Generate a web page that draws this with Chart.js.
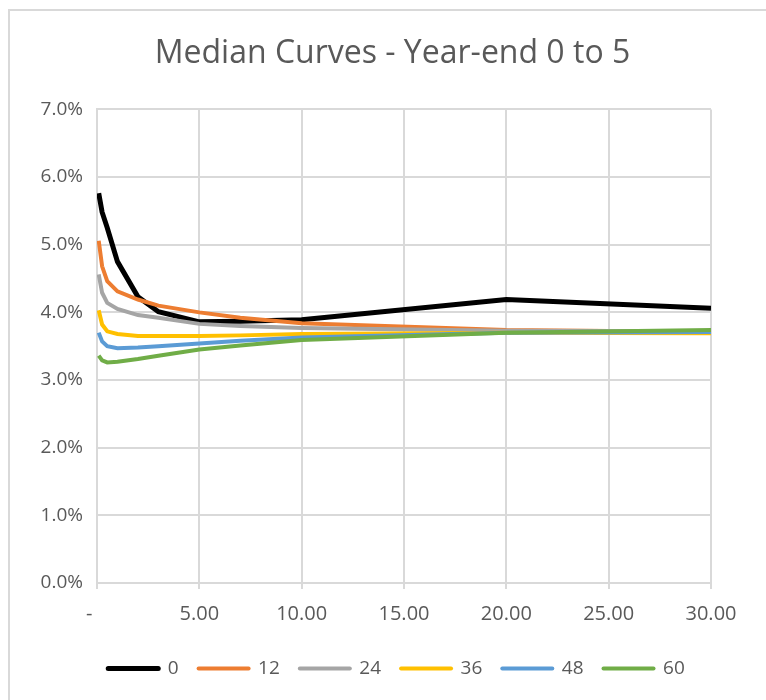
<!DOCTYPE html>
<html>
<head>
<meta charset="utf-8">
<script src="https://cdn.jsdelivr.net/npm/chart.js@4/dist/chart.umd.min.js"></script>
<style>
  html, body { margin: 0; padding: 0; background: #ffffff; }
  #wrap { position: absolute; left: 0; top: 0; width: 766px; height: 700px; }
  #frame { position: absolute; left: 8px; top: 9px; width: 770px; height: 700px;
           border-left: 2px solid #d9d9d9; border-top: 2px solid #d9d9d9; box-sizing: border-box; }
  canvas { position: absolute; left: 0; top: 0; }
</style>
</head>
<body>
<div id="wrap">
  <div id="frame"></div>
  <canvas id="c" width="766" height="700"></canvas>
</div>
<script>
// Maturities in years
const maturities = [1/12, 0.25, 0.5, 1, 2, 3, 5, 7, 10, 20, 30];

// Median yields (%) per year-end horizon (months)
const seriesNames = ['0', '12', '24', '36', '48', '60'];
const curve0  = [5.76, 5.48, 5.25, 4.75, 4.23, 4.01, 3.86, 3.87, 3.89, 4.19, 4.06];
const curve12 = [5.06, 4.68, 4.46, 4.31, 4.19, 4.10, 4.00, 3.92, 3.84, 3.74, 3.71];
const curve24 = [4.56, 4.29, 4.14, 4.05, 3.96, 3.92, 3.83, 3.80, 3.77, 3.73, 3.72];
const curve36 = [4.03, 3.82, 3.72, 3.68, 3.65, 3.65, 3.65, 3.66, 3.68, 3.70, 3.69];
const curve48 = [3.70, 3.57, 3.50, 3.47, 3.48, 3.50, 3.54, 3.58, 3.63, 3.70, 3.71];
const curve60 = [3.36, 3.29, 3.26, 3.27, 3.31, 3.36, 3.45, 3.51, 3.59, 3.70, 3.74];

// Axis ticks
const xTicks = [0, 5, 10, 15, 20, 25, 30];
const yTicks = [0, 1, 2, 3, 4, 5, 6, 7];

const curves = [curve0, curve12, curve24, curve36, curve48, curve60];
const colors = ['#000000', '#ED7D31', '#A5A5A5', '#FFC000', '#5B9BD5', '#70AD47'];
const widths = [5, 4, 4, 4, 4, 4];

const textColor = '#595959';
const fontFamily = '"Open Sans", "Liberation Sans", sans-serif';

const datasets = curves.map((vals, i) => ({
  label: seriesNames[i],
  data: vals.map((v, j) => ({ x: maturities[j], y: v })),
  borderColor: colors[i],
  backgroundColor: colors[i],
  borderWidth: widths[i],
  pointRadius: 0,
  tension: 0,
  fill: false,
  order: curves.length - i  // later series painted on top
}));

// Centre the title and legend under the whole frame rather than the plot box
const blockShift = {
  id: 'blockShift',
  afterLayout(chart) {
    const t = chart.titleBlock;
    if (t) { t.left += 32; t.right += 32; }
    const lg = chart.legend;
    if (lg) { lg.left += 36; lg.right += 36; }
  }
};

new Chart(document.getElementById('c'), {
  type: 'line',
  data: { datasets },
  plugins: [blockShift],
  options: {
    responsive: false,
    animation: false,
    layout: { padding: { left: 10, right: 55, top: 0, bottom: 12 } },
    plugins: {
      title: {
        display: true,
        text: 'Median Curves - Year-end 0 to 5',
        color: textColor,
        font: { family: fontFamily, size: 32, weight: 'normal' },
        padding: { top: 35, bottom: 36 }
      },
      legend: {
        position: 'bottom',
        labels: {
          color: textColor,
          font: { family: fontFamily, size: 19 },
          usePointStyle: true,
          pointStyleWidth: 50,
          boxHeight: 5,
          padding: 20,
          sort: (a, b) => a.datasetIndex - b.datasetIndex,
          generateLabels: (chart) => {
            const items = Chart.defaults.plugins.legend.labels.generateLabels(chart);
            items.forEach(it => {
              const i = it.datasetIndex;
              it.pointStyle = 'line';
              it.lineWidth = widths[i];
              it.lineCap = 'round';
              it.strokeStyle = colors[i];
              it.fillStyle = colors[i];
            });
            return items;
          }
        }
      },
      tooltip: { enabled: false }
    },
    scales: {
      x: {
        type: 'linear',
        min: 0,
        max: 30,
        afterBuildTicks: (axis) => { axis.ticks = xTicks.map(v => ({ value: v })); },
        ticks: {
          color: textColor,
          font: { family: fontFamily, size: 20 },
          padding: 13,
          maxRotation: 0,
          callback: (v) => v === 0 ? '-   ' : Number(v).toFixed(2)
        },
        grid: { color: '#d9d9d9', lineWidth: 2, drawTicks: true, tickLength: 6, tickColor: '#d9d9d9' },
        border: { color: '#d9d9d9', width: 2 }
      },
      y: {
        min: 0,
        max: 7,
        afterBuildTicks: (axis) => { axis.ticks = yTicks.map(v => ({ value: v })); },
        afterFit: (axis) => { axis.width = 87; },
        ticks: {
          color: textColor,
          font: { family: fontFamily, size: 19 },
          padding: 14,
          callback: (v) => Number(v).toFixed(1) + '%'
        },
        grid: { color: '#d9d9d9', lineWidth: 2, drawTicks: false },
        border: { color: '#d9d9d9', width: 2 }
      }
    }
  }
});
</script>
</body>
</html>
